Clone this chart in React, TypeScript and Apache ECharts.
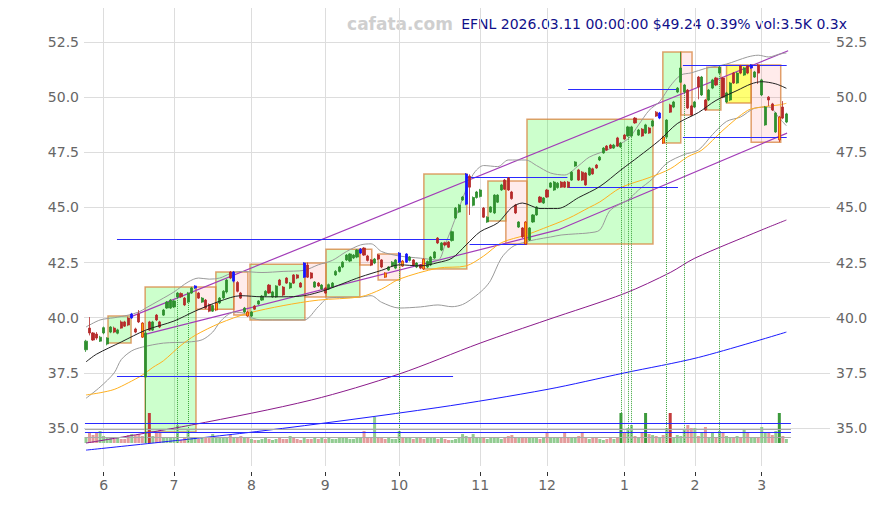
import React, { useEffect, useRef } from "react";
import * as echarts from "echarts";

const HOLIDAYS = ["2025-05-26", "2025-06-19", "2025-07-04", "2025-09-01", "2025-11-27", "2025-12-25", "2026-01-01", "2026-01-19", "2026-02-16"];

function tradingDays(start: string, end: string): string[] {
  const out: string[] = [];
  const d = new Date(start + "T00:00:00Z");
  const e = new Date(end + "T00:00:00Z");
  while (d <= e) {
    const wd = d.getUTCDay();
    const s = d.toISOString().slice(0, 10);
    if (wd !== 0 && wd !== 6 && HOLIDAYS.indexOf(s) < 0) out.push(s);
    d.setUTCDate(d.getUTCDate() + 1);
  }
  return out;
}

const dates = tradingDays("2025-05-23", "2026-03-11");

// [open, close, low, high]
const ohlc: number[][] = [
  [38.55, 38.94, 38.45, 39.0], [39.53, 39.31, 39.2, 40.03], [39.31, 38.99, 38.95, 39.35], [39.26, 39.08, 39.0, 39.35], [38.94, 39.12, 38.9, 39.18],
  [39.31, 39.55, 39.25, 39.6], [38.81, 39.08, 38.75, 39.12], [39.35, 39.58, 39.3, 39.62], [39.53, 39.35, 39.3, 39.6], [39.3, 39.45, 39.25, 39.5],
  [39.81, 39.53, 39.5, 39.88], [39.81, 39.62, 39.58, 39.86], [39.99, 39.67, 39.62, 40.05], [39.99, 40.17, 39.95, 40.22], [39.49, 39.35, 39.3, 39.55],
  [40.17, 39.81, 39.76, 40.35], [39.76, 39.12, 39.08, 39.8], [37.31, 39.31, 34.32, 39.4], [39.81, 39.44, 39.4, 39.86], [39.44, 39.81, 39.4, 39.86],
  [40.12, 39.9, 39.85, 40.17], [39.81, 39.58, 39.53, 39.86], [40.12, 40.35, 40.08, 40.4], [40.44, 40.71, 40.4, 40.76], [40.44, 40.8, 40.4, 40.85],
  [40.49, 40.76, 40.44, 40.8], [40.94, 41.12, 40.9, 41.17], [41.1, 40.95, 40.9, 41.15], [40.89, 40.58, 40.53, 40.94], [40.71, 41.12, 40.67, 41.17],
  [41.12, 41.35, 41.08, 41.4], [41.35, 41.44, 41.3, 41.48], [41.12, 40.89, 40.85, 41.17], [40.71, 40.89, 40.67, 40.94], [40.8, 40.44, 40.4, 40.85],
  [40.6, 40.3, 40.25, 40.65], [40.3, 40.55, 40.26, 40.6], [40.35, 40.67, 40.3, 40.7], [40.67, 40.89, 40.62, 40.94], [40.9, 41.2, 40.85, 41.25],
  [41.17, 41.71, 41.1, 41.76], [42.07, 41.8, 41.75, 42.12], [41.66, 42.07, 41.6, 42.12], [41.6, 41.2, 41.15, 41.66], [41.12, 40.89, 40.85, 41.17],
  [40.26, 40.44, 40.2, 40.49], [40.26, 40.08, 40.03, 40.3], [40.08, 40.26, 40.03, 40.3], [40.53, 40.39, 40.35, 40.58], [40.62, 40.76, 40.58, 40.8],
  [40.8, 40.98, 40.76, 41.03], [41.0, 41.2, 40.95, 41.25], [41.48, 41.12, 41.08, 41.53], [40.94, 41.17, 40.9, 41.22], [40.94, 41.44, 40.9, 41.48],
  [41.71, 41.48, 41.44, 41.76], [41.39, 41.03, 40.98, 41.44], [41.8, 41.57, 41.53, 41.84], [41.35, 41.57, 41.3, 41.62], [41.94, 41.57, 41.53, 41.98],
  [41.94, 41.8, 41.75, 41.98], [41.57, 41.39, 41.35, 41.62], [41.84, 42.48, 41.8, 42.52], [42.39, 41.84, 41.8, 42.5], [42.03, 41.8, 41.75, 42.07],
  [41.39, 41.62, 41.35, 41.66], [41.57, 41.44, 41.4, 41.62], [41.3, 41.48, 41.26, 41.53], [41.35, 41.12, 41.08, 41.4], [41.3, 41.5, 41.26, 41.55],
  [41.39, 41.57, 41.35, 41.62], [41.94, 42.1, 41.9, 42.16], [42.1, 42.3, 42.05, 42.35], [42.3, 42.52, 42.25, 42.57], [42.62, 42.84, 42.57, 42.89],
  [42.57, 42.89, 42.52, 42.93], [42.71, 42.84, 42.66, 42.89], [42.75, 43.07, 42.7, 43.11], [42.93, 43.11, 42.89, 43.16], [43.16, 42.84, 42.8, 43.2],
  [42.8, 42.6, 42.55, 42.85], [42.62, 42.39, 42.34, 42.66], [42.48, 42.66, 42.43, 42.71], [42.84, 42.66, 42.62, 42.89], [42.62, 42.3, 42.25, 42.66],
  [42.03, 41.84, 41.8, 42.07], [42.16, 42.3, 42.12, 42.34], [42.34, 42.52, 42.3, 42.57], [42.25, 42.62, 42.2, 42.66], [42.52, 42.93, 42.48, 42.98],
  [42.57, 42.34, 42.3, 42.62], [42.52, 42.89, 42.48, 42.93], [42.6, 42.75, 42.55, 42.8], [42.62, 42.39, 42.34, 42.66], [42.3, 42.48, 42.25, 42.52],
  [42.39, 42.25, 42.2, 42.43], [42.66, 42.21, 42.16, 42.7], [42.3, 42.55, 42.25, 42.6], [42.39, 42.75, 42.34, 42.8], [42.71, 42.98, 42.66, 43.02],
  [43.61, 43.39, 43.34, 43.66], [43.07, 43.39, 43.02, 43.43], [43.4, 43.3, 43.25, 43.45], [43.43, 43.2, 43.16, 43.48], [43.5, 43.9, 43.45, 43.95],
  [44.52, 44.97, 44.47, 45.02], [44.79, 45.11, 44.75, 45.16], [45.34, 45.47, 45.3, 45.52], [45.15, 46.51, 45.1, 46.56], [46.42, 45.92, 44.66, 46.5],
  [45.1, 45.45, 45.05, 45.5], [45.45, 45.7, 45.4, 45.75], [45.5, 45.79, 45.45, 45.84], [44.97, 44.56, 44.52, 45.02], [44.34, 44.56, 44.3, 44.6],
  [44.79, 45.02, 44.75, 45.06], [44.75, 45.56, 44.7, 45.6], [45.24, 45.56, 45.2, 45.6], [45.79, 46.02, 45.75, 46.07], [46.24, 45.83, 45.79, 46.29],
  [46.33, 45.79, 45.75, 46.38], [45.7, 45.4, 45.35, 45.75], [45.11, 44.75, 44.7, 45.16], [44.11, 44.34, 44.07, 44.38], [44.07, 43.66, 43.61, 44.11],
  [44.34, 43.34, 43.3, 44.38], [43.52, 44.07, 43.48, 44.11], [44.34, 44.66, 44.3, 44.7], [44.66, 45.02, 44.62, 45.06], [45.47, 45.24, 45.2, 45.52],
  [45.2, 45.43, 45.16, 45.47], [45.79, 45.47, 45.43, 45.84], [45.92, 46.11, 45.88, 46.15], [45.79, 46.15, 45.75, 46.2], [45.9, 46.1, 45.85, 46.15],
  [46.15, 45.92, 45.88, 46.2], [46.15, 45.92, 45.88, 46.2], [46.15, 45.92, 45.88, 46.2], [46.24, 46.6, 46.2, 46.65], [46.88, 47.06, 46.84, 47.1],
  [46.7, 46.24, 46.2, 46.75], [46.6, 46.24, 46.2, 46.65], [46.56, 46.02, 45.98, 46.6], [46.47, 46.79, 46.43, 46.84], [46.75, 46.52, 46.48, 46.8],
  [46.92, 46.79, 46.75, 46.97], [47.15, 47.28, 47.1, 47.33], [47.47, 47.69, 47.43, 47.74], [47.78, 47.6, 47.56, 47.83], [47.83, 47.69, 47.65, 47.88],
  [47.69, 47.83, 47.65, 47.88], [48.15, 47.78, 47.74, 48.2], [47.74, 47.92, 47.7, 47.97], [48.28, 48.1, 48.06, 48.33], [48.24, 48.65, 48.2, 48.7],
  [48.24, 48.65, 48.2, 48.7], [49.05, 48.83, 48.79, 49.1], [48.28, 48.51, 48.24, 48.56], [48.55, 48.24, 48.2, 48.6], [48.37, 48.74, 48.33, 48.79],
  [48.6, 48.37, 48.33, 48.65], [48.69, 48.92, 48.65, 48.97], [49.32, 49.14, 49.1, 49.37], [49.05, 49.28, 49.0, 49.33], [48.19, 47.92, 47.88, 48.24],
  [48.19, 48.96, 48.15, 49.0], [49.64, 49.32, 49.28, 49.7], [49.55, 49.78, 49.5, 49.83], [50.23, 50.41, 50.18, 50.46], [50.68, 51.32, 50.64, 52.04],
  [50.23, 50.55, 50.18, 50.6], [50.32, 49.51, 49.46, 50.37], [49.6, 49.19, 49.14, 49.65], [49.55, 49.78, 49.5, 49.83], [50.91, 50.46, 49.9, 50.96],
  [50.1, 50.91, 50.05, 50.96], [49.87, 49.42, 49.37, 49.92], [49.87, 50.32, 49.82, 50.37], [50.41, 50.78, 50.36, 50.83], [50.87, 50.55, 50.5, 50.92],
  [51.09, 51.36, 51.04, 51.41], [50.87, 50.0, 49.95, 50.92], [49.78, 50.19, 49.73, 50.24], [49.87, 50.64, 49.82, 50.69], [51.09, 50.64, 50.6, 51.14],
  [50.64, 51.09, 50.6, 51.14], [51.41, 51.09, 51.04, 51.46], [51.0, 51.32, 50.96, 51.37], [51.41, 51.09, 51.04, 51.46], [51.32, 51.46, 51.28, 51.5],
  [50.91, 51.14, 50.87, 51.19], [51.46, 51.09, 50.6, 51.5], [50.1, 50.78, 50.05, 50.83], [48.74, 49.55, 48.7, 49.6], [50.0, 49.87, 49.6, 50.05],
  [49.69, 49.42, 49.37, 49.74], [48.42, 49.28, 48.38, 49.33], [48.06, 49.1, 47.96, 49.15], [49.55, 49.05, 49.0, 49.82], [48.87, 49.24, 48.82, 49.29],
];

const volumes: number[] = [
  6, 10, 8, 10, 12, 7, 6, 5, 4, 6, 4, 4, 8, 9, 8, 9, 7, 10, 30, 7,
  11, 14, 5, 6, 6, 5, 18, 3, 5, 13, 5, 6, 4, 5, 6, 5, 9, 5, 6, 5,
  6, 8, 5, 6, 7, 6, 5, 4, 3, 3, 4, 5, 4, 3, 4, 5, 4, 4, 7, 5,
  4, 3, 5, 4, 4, 5, 4, 5, 4, 5, 4, 4, 5, 6, 5, 4, 4, 5, 6, 12,
  6, 5, 26, 5, 6, 4, 5, 4, 4, 12, 5, 5, 6, 4, 5, 5, 4, 6, 5, 5,
  4, 6, 4, 3, 3, 4, 5, 9, 7, 5, 9, 5, 6, 5, 4, 6, 5, 5, 4, 6,
  7, 8, 6, 5, 6, 6, 5, 6, 5, 4, 6, 10, 5, 6, 5, 6, 10, 6, 5, 6,
  7, 10, 6, 4, 5, 6, 4, 3, 4, 6, 4, 5, 30, 10, 15, 18, 7, 5, 10, 30,
  9, 8, 7, 6, 8, 15, 30, 6, 8, 7, 13, 18, 15, 15, 7, 10, 16, 6, 10, 5,
  12, 10, 7, 6, 6, 7, 6, 13, 10, 6, 5, 5, 16, 10, 10, 8, 12, 30, 7, 4,
];

const blueDays = [13, 31, 42, 62, 78, 89, 91, 108, 163, 189];
const orangeDays = [16, 37, 46, 85, 90, 96, 125, 164, 197];
const dottedDays = [26, 29, 89, 152, 154, 155, 165, 170, 180];

const ma20 = [[0, 38.0], [3, 38.35], [10, 38.9], [17, 39.44], [25, 39.85], [31, 40.3], [38, 40.75], [44, 41.0], [50, 40.95], [56, 40.95], [62, 41.0], [68, 41.25], [73, 41.55], [78, 41.85], [84, 42.15], [89, 42.4], [95, 42.35], [100, 42.5], [104, 42.7], [108, 43.3], [112, 43.9], [117, 44.3], [121, 45.0], [124, 45.2], [129, 44.95], [134, 44.95], [140, 45.45], [146, 45.95], [152, 46.7], [157, 47.3], [163, 48.05], [168, 48.8], [174, 49.3], [179, 49.85], [185, 50.3], [189, 50.6], [192, 50.7], [196, 50.6], [199, 50.4]];
const ma50 = [[0, 36.5], [4, 36.6], [8, 36.75], [12, 37.05], [16, 37.4], [19, 37.75], [22, 38.05], [27, 38.75], [31, 39.2], [38, 39.75], [46, 40.2], [56, 40.55], [66, 40.8], [78, 40.95], [84, 41.3], [89, 41.75], [100, 42.25], [108, 42.35], [113, 42.8], [118, 43.4], [125, 43.75], [130, 44.05], [137, 44.5], [143, 45.0], [146, 45.25], [152, 45.9], [160, 46.35], [166, 46.75], [171, 47.3], [175, 47.6], [181, 48.5], [188, 49.4], [192, 49.55], [197, 49.65], [199, 49.72]];
const bbUpper = [[0, 39.58], [4, 39.9], [8, 40.0], [12, 40.12], [15, 40.26], [17, 40.44], [21, 40.8], [25, 41.17], [29, 41.62], [32, 41.8], [35, 41.75], [38, 41.8], [41, 42.0], [44, 42.1], [50, 42.05], [56, 42.1], [62, 42.15], [66, 42.4], [70, 42.6], [74, 43.0], [78, 43.3], [81, 43.35], [84, 43.0], [89, 42.8], [95, 42.7], [100, 42.62], [102, 43.3], [104, 44.1], [107, 45.4], [110, 46.5], [113, 46.9], [117, 46.85], [120, 47.15], [125, 47.15], [128, 46.9], [132, 46.56], [136, 46.47], [140, 46.9], [143, 47.28], [148, 47.6], [154, 48.1], [157, 48.74], [160, 49.4], [163, 49.8], [166, 50.5], [169, 51.0], [172, 51.1], [176, 51.3], [182, 51.5], [188, 51.82], [191, 51.9], [194, 51.82], [197, 51.95], [199, 52.0]];
const bbLower = [[0, 36.35], [4, 36.86], [8, 37.5], [10, 38.1], [13, 38.5], [16, 38.67], [22, 38.85], [29, 38.9], [33, 39.0], [36, 39.35], [38, 39.8], [40, 40.1], [42, 40.25], [45, 40.2], [47, 40.0], [50, 39.9], [56, 39.9], [62, 39.9], [66, 40.5], [69, 40.9], [78, 40.94], [81, 41.0], [84, 40.7], [89, 40.44], [95, 40.49], [100, 40.58], [104, 40.5], [107, 40.6], [110, 40.9], [113, 41.3], [115, 41.7], [118, 42.7], [121, 43.2], [124, 43.4], [128, 43.55], [132, 43.66], [135, 43.75], [139, 43.8], [143, 43.85], [146, 43.98], [149, 44.88], [154, 45.34], [157, 45.79], [161, 46.3], [165, 47.0], [170, 47.4], [174, 47.6], [178, 48.3], [182, 48.9], [186, 49.1], [190, 49.5], [194, 49.55], [197, 49.05], [199, 48.7]];
const ma100 = [[0, 34.32], [30, 35.14], [64, 36.27], [89, 37.45], [112, 38.85], [131, 39.9], [153, 41.1], [166, 42.05], [173, 42.7], [192, 43.98], [199, 44.43]];
const ma200 = [[0, 34.0], [50, 34.87], [100, 35.93], [131, 36.75], [153, 37.5], [174, 38.2], [199, 39.35]];
const channelUpper = [[12.5, 40.03], [199.5, 52.1]];
const channelLower = [[16.2, 39.22], [134.1, 43.98], [199.2, 48.37]];

// [fromIndex, toIndex, price]
const levels = [[8.8, 104.3, 43.57], [8.8, 104.3, 37.36], [108.2, 136.8, 46.38], [109, 125.3, 43.34], [137, 168.2, 45.92], [137, 168.5, 50.37], [169.6, 199.1, 51.46], [169.6, 199.1, 48.19]];
// [fromIndex, toIndex, top, bottom, kind]
const boxes: [number, number, number, number, string][] = [
  [6.25, 12.8, 40.08, 38.85, "g"], [16.8, 31.25, 41.39, 34.82, "g"], [31.25, 36.9, 41.39, 40.39, "p"], [36.9, 42.0, 42.07, 40.39, "g"],
  [42.0, 46.0, 42.07, 40.12, "p"], [46.6, 62.2, 42.43, 39.9, "g"], [62.2, 68.2, 42.48, 40.94, "p"], [68.2, 77.8, 43.11, 40.94, "g"],
  [77.8, 81.2, 43.11, 42.39, "p"], [83, 89.2, 42.89, 41.71, "p"], [96, 108.2, 46.51, 42.21, "g"], [114.2, 119.3, 46.2, 44.38, "g"],
  [119.3, 125.3, 46.2, 43.34, "p"], [125.3, 161.1, 49.0, 43.34, "g"], [163.9, 169, 52.04, 47.92, "g"], [169, 172.2, 52.04, 49.19, "p"],
  [176.4, 180.4, 51.36, 49.42, "g"], [182, 189, 51.46, 49.73, "y"], [189, 197.4, 51.46, 47.96, "p"],
];
const volumeLevels = [[20, "#2a2aff"], [14, "#aaaaaa"], [11, "#2a2aff"], [6, "#aaaaaa"]];
const yTicks = [35, 37.5, 40, 42.5, 45, 47.5, 50, 52.5];
const titleText = "EFNL 2026.03.11 00:00:00 $49.24 0.39% vol:3.5K 0.3x";

const FONT = "DejaVu Sans";
const UP = "#2f8f2f";
const DOWN = "#b52a2a";

export default function App() {
  const ref = useRef<HTMLDivElement>(null);
  useEffect(() => {
    if (!ref.current) return;
    const chart = echarts.init(ref.current, undefined, { renderer: "svg" });
    const monthIdx: number[] = [];
    const monthLab: Record<number, string> = {};
    for (let i = 1; i < dates.length; i++) {
      if (dates[i].slice(5, 7) !== dates[i - 1].slice(5, 7)) {
        monthIdx.push(i);
        monthLab[i] = String(parseInt(dates[i].slice(5, 7), 10));
      }
    }
    const X_MIN = -0.57, X_MAX = 211.4, Y_MIN = 33.28, Y_MAX = 54.04;
    const boxFill: Record<string, string> = { g: "rgba(0,255,0,0.2)", p: "rgba(255,0,0,0.08)", y: "rgba(255,255,0,0.55)" };
    const candleData = ohlc.map((d, i) => {
      const item: any = { value: [i, d[0], d[1], d[2], d[3]] };
      if (blueDays.indexOf(i) >= 0) item.itemStyle = { color: "#1515ff", color0: "#1515ff", borderColor: "#1515ff", borderColor0: "#1515ff" };
      if (orangeDays.indexOf(i) >= 0) item.itemStyle = { color: "#ffa500", color0: "#ffa500", borderColor: "#d03010", borderColor0: "#d03010" };
      return item;
    });
    const volData = volumes.map((v, i) => {
      const up = ohlc[i][1] >= ohlc[i][0];
      const strong = v >= 28;
      return { value: [i, v], itemStyle: { color: up ? (strong ? "#3c9a3c" : "#92cc92") : strong ? "#c43c3c" : "#e39c9c" } };
    });
    const lineS = (data: number[][], color: string, width: number, z: number, smooth: any = 0.3) => ({
      type: "line", xAxisIndex: 0, yAxisIndex: 0, data, smooth, symbol: "none", silent: true, z,
      lineStyle: { color, width },
    });
    const option: any = {
      animation: false,
      backgroundColor: "#ffffff",
      grid: [
        { left: 84, right: 45, top: 8, bottom: 39 },
        { left: 84, right: 45, top: 413, bottom: 62 },
      ],
      xAxis: [
        {
          type: "value", gridIndex: 0, min: X_MIN, max: X_MAX, offset: 6,
          axisLine: { show: false },
          axisTick: { show: true, length: 4, lineStyle: { color: "#333" }, customValues: monthIdx },
          axisLabel: { customValues: monthIdx, formatter: (v: number) => monthLab[Math.round(v)] || "", color: "#666", fontSize: 14, fontFamily: FONT, margin: 6 },
          splitLine: { show: true, lineStyle: { color: "#dddddd", width: 1 } },
        },
        { type: "value", gridIndex: 1, min: X_MIN, max: X_MAX, show: false, splitLine: { show: false } },
      ],
      yAxis: [
        {
          type: "value", gridIndex: 0, position: "left", min: Y_MIN, max: Y_MAX,
          axisLine: { show: false }, axisTick: { show: false, customValues: yTicks },
          axisLabel: { customValues: yTicks, formatter: (v: number) => v.toFixed(1), color: "#666", fontSize: 14, fontFamily: FONT, margin: 5 },
          splitLine: { show: true, lineStyle: { color: "#dddddd", width: 1 } },
        },
        {
          type: "value", gridIndex: 0, position: "right", min: Y_MIN, max: Y_MAX,
          axisLine: { show: false }, axisTick: { show: false, customValues: yTicks },
          axisLabel: { customValues: yTicks, formatter: (v: number) => v.toFixed(1), color: "#666", fontSize: 14, fontFamily: FONT, margin: 6 },
          splitLine: { show: false },
        },
        { type: "value", gridIndex: 1, min: 0, max: 30, show: false, splitLine: { show: false } },
      ],
      graphic: [
        { type: "text", right: 422, top: 15, style: { text: "cafata.com", fill: "#cfcfcf", font: `bold 17px "${FONT}"` } },
        { type: "text", right: 28, top: 17, style: { text: titleText, fill: "#10108a", font: `14px "${FONT}"` } },
      ],
      series: [
        {
          type: "line", xAxisIndex: 0, yAxisIndex: 0, data: [], z: 1, silent: true,
          markArea: {
            silent: true,
            data: boxes.map((b) => [
              { coord: [b[0], b[2]], itemStyle: { color: boxFill[b[4]], borderColor: "rgba(215,130,60,0.75)", borderWidth: 1.5 } },
              { coord: [b[1], b[3]] },
            ]),
          },
        },
        {
          type: "line", xAxisIndex: 0, yAxisIndex: 0, data: [], z: 2, silent: true,
          markLine: {
            silent: true, symbol: ["none", "none"], label: { show: false },
            lineStyle: { color: "#3aa53a", type: "dotted", width: 1 },
            data: dottedDays.map((i) => [{ coord: [i, ohlc[i][2]] }, { coord: [i, 34.32] }]),
          },
        },
        lineS(ma200, "#1a1aff", 1, 3),
        lineS(ma100, "#8a1a8a", 1, 3),
        lineS(channelUpper, "#a23cb8", 1.2, 3, false),
        lineS(channelLower, "#a23cb8", 1.2, 3, false),
        lineS(bbUpper, "#9a9a9a", 1, 3),
        lineS(bbLower, "#9a9a9a", 1, 3),
        lineS(ma50, "#ffb020", 1, 3),
        {
          type: "line", xAxisIndex: 0, yAxisIndex: 0, data: [], z: 4, silent: true,
          markLine: {
            silent: true, symbol: ["none", "none"], label: { show: false },
            lineStyle: { color: "#2a2aff", type: "solid", width: 1 },
            data: levels.map((l) => [{ coord: [l[0], l[2]] }, { coord: [l[1], l[2]] }]),
          },
        },
        {
          type: "candlestick", xAxisIndex: 0, yAxisIndex: 0, z: 5, silent: true,
          encode: { x: 0, y: [1, 2, 3, 4] },
          barWidth: 2.6,
          itemStyle: { color: UP, color0: DOWN, borderColor: UP, borderColor0: DOWN, borderWidth: 0.8 },
          data: candleData,
        },
        lineS(ma20, "#222222", 1, 6),
        {
          type: "bar", xAxisIndex: 1, yAxisIndex: 2, barWidth: 3, z: 2, silent: true,
          data: volData,
        },
        {
          type: "line", xAxisIndex: 1, yAxisIndex: 2, data: [], z: 3, silent: true,
          markLine: {
            silent: true, symbol: ["none", "none"], label: { show: false },
            data: volumeLevels.map((l) => [
              { coord: [-0.3, l[0]], lineStyle: { color: l[1], width: 1, type: "solid" } },
              { coord: [200.3, l[0]] },
            ]),
          },
        },
      ],
    };
    chart.setOption(option);
    return () => chart.dispose();
  }, []);
  return <div ref={ref} style={{ position: "fixed", left: 0, top: 0, width: 875, height: 505 }} />;
}
